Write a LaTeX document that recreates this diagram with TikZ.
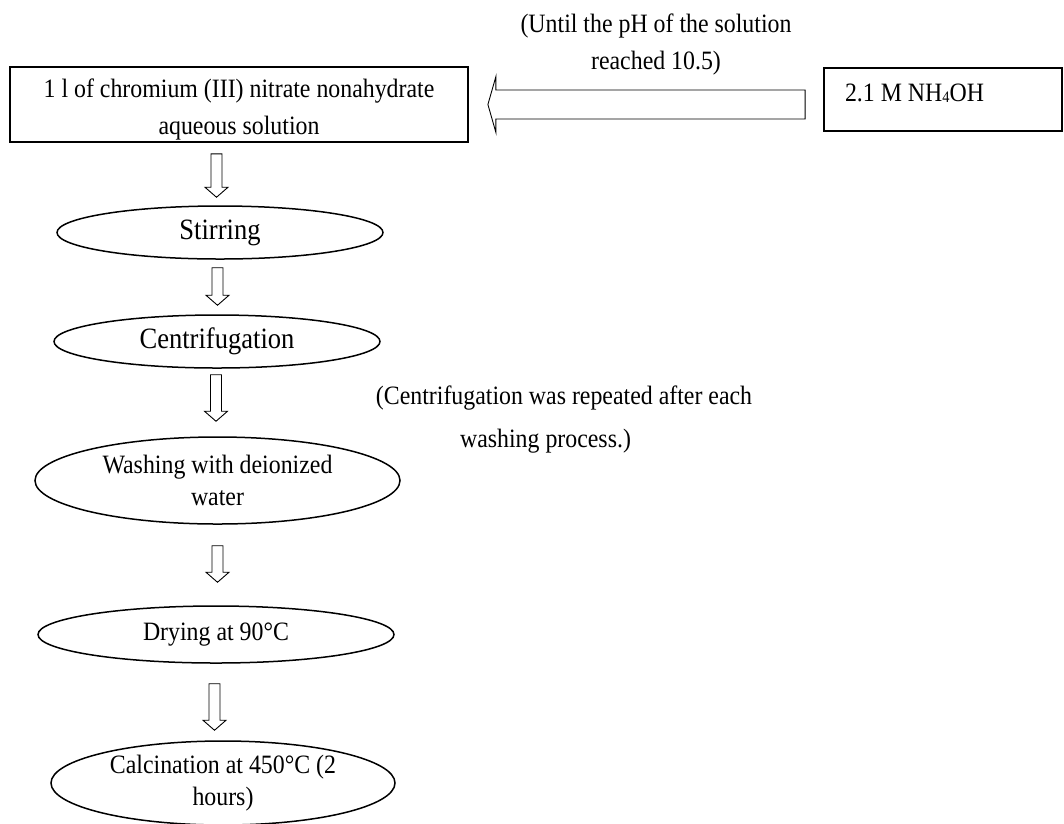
\documentclass[tikz,border=0pt]{standalone}
\usepackage{fontspec}
\setmainfont{Liberation Serif}[FakeStretch=0.9]
\usetikzlibrary{shapes.geometric,calc}
\newcommand\blockdn[2]{\draw[blk] let \p1=#1, \p2=#2 in
  (\x1-5.5pt,\y1) -- (\x1+5.5pt,\y1) -- (\x1+5.5pt,\y2+10pt) -- (\x1+11.5pt,\y2+10pt)
  -- (\x1,\y2) -- (\x1-11.5pt,\y2+10pt) -- (\x1-5.5pt,\y2+10pt) -- cycle;}
\newcommand\blocklt[2]{\draw[blk] let \p1=#1, \p2=#2 in
  (\x1,\y2+14.5pt) -- (\x2+8pt,\y2+14.5pt) -- (\x2+8pt,\y2+28pt) -- (\x2,\y2)
  -- (\x2+8pt,\y2-28pt) -- (\x2+8pt,\y2-14.5pt) -- (\x1,\y2-14.5pt) -- cycle;}
\begin{document}
\begin{tikzpicture}[x=1pt,y=-1pt,
  txt/.style={font=\fontsize{26.5}{37}\selectfont, inner sep=0pt, align=center},
  rbox/.style={draw, line width=1.8pt, inner sep=0pt, align=center},
  oval/.style={draw, ellipse, line width=1.5pt, inner sep=0pt, align=center,
    font=\fontsize{26.5}{32}\selectfont},
  bigoval/.style={oval, font=\fontsize{29.5}{32}\selectfont},
  blk/.style={draw, line width=0.9pt, fill=white, line join=miter}]
\useasboundingbox (0,0) rectangle (1064,823);

\node[rbox, minimum width=458pt, minimum height=75pt,
  font=\fontsize{26.5}{37}\selectfont] (sol) at (239,104.5)
  {\rule{0pt}{28.3pt}1 l of chromium (III) nitrate nonahydrate\\aqueous solution};
\node[rbox, minimum height=63pt, minimum width=238pt,
  font=\fontsize{26.5}{37}\selectfont] (nh) at (943,99.5)
  {\rule[-13pt]{0pt}{0pt}\makebox[196pt][l]{2.1 M NH{\fontsize{16}{16}\selectfont\raisebox{-1pt}{4}}OH}};
\node[txt] (ph) at (656,44.6) {(Until the pH of the solution\\reached 10.5)};

\node[bigoval, minimum width=326pt, minimum height=53pt] (stir) at (220,232.5) {Stirring};
\node[bigoval, minimum width=326pt, minimum height=53pt] (cent) at (217,341.5) {Centrifugation};
\node[oval, minimum width=365pt, minimum height=87pt] (wash) at (217.5,480.5) {Washing with deionized\\water};
\node[oval, minimum width=356pt, minimum height=57pt] (dry) at (216,634.5) {Drying at 90°C};
\node[oval, minimum width=344pt, minimum height=84pt] (calc) at (223,783) {Calcination at 450°C (2\\hours)};

\node[txt] (rep1) at (564,398.3) {(Centrifugation was repeated after each};
\node[txt] (rep2) at (545.5,441.3) {washing process.)};

\blocklt{([xshift=-18pt,yshift=-4pt]nh.west)}{([xshift=19pt]sol.east)}
\blockdn{([xshift=-22.5pt,yshift=-11pt]sol.south)}{([yshift=8pt]stir.north)}
\blockdn{([xshift=-2.5pt,yshift=-8pt]stir.south)}{([yshift=9pt]cent.north)}
\blockdn{([xshift=-1pt,yshift=-6pt]cent.south)}{([yshift=15pt]wash.north)}
\blockdn{([yshift=-21pt]wash.south)}{([yshift=23pt]dry.north)}
\blockdn{([xshift=-1.5pt,yshift=-20pt]dry.south)}{([yshift=10pt]calc.north)}
\end{tikzpicture}
\end{document}
